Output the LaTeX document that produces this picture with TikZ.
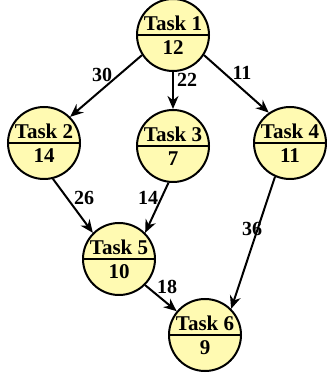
\documentclass[tikz,border=0pt]{standalone}
\usepackage{fontspec}
\setmainfont{Liberation Serif}
\usetikzlibrary{arrows.meta}
\definecolor{taskColor}{RGB}{255,250,178}

\begin{document}
\begin{tikzpicture}[x=1pt,y=1pt,
  task/.style={circle, draw, fill=taskColor, line width=2pt,
    minimum size=72pt, inner sep=0pt, align=center,
    font=\fontsize{21}{24}\selectfont\bfseries,
    path picture={\draw [line width=2pt] (path picture bounding box.west)
      -- (path picture bounding box.east);}},
  cost/.style={font=\fontsize{20}{22}\selectfont\bfseries, inner sep=0pt},
  edge/.style={line width=2pt, -{Stealth[length=13pt,width=11pt]}}]
\useasboundingbox (0,0) rectangle (326,374);

% tasks
\node [task] (t1) at (173,339) {Task 1\\12};
\node [task] (t2) at (44,231) {Task 2\\14};
\node [task] (t3) at (173,228) {Task 3\\7};
\node [task] (t4) at (290,231) {Task 4\\11};
\node [task] (t5) at (119,115) {Task 5\\10};
\node [task] (t6) at (205,39) {Task 6\\9};

% dependencies
\draw [edge] (t1.213) -- (t2.45);
\draw [edge] (t1.south) -- (t3.north);
\draw [edge] (t1.-33) -- (t4.125);
\draw [edge] (t2.-76) -- (t5.135);
\draw [edge] (t3.-97) -- (t5.45);
\draw [edge] (t4.-114) -- (t6.45);
\draw [edge] (t5.-45) -- (t6.140);

% communication costs
\node [cost] (c12) at (102,299) {30};
\node [cost] (c13) at (187,294) {22};
\node [cost] (c14) at (242,301) {11};
\node [cost] (c25) at (84,176) {26};
\node [cost] (c35) at (148,176) {14};
\node [cost] (c46) at (252,145) {36};
\node [cost] (c56) at (167,87) {18};
\end{tikzpicture}
\end{document}
